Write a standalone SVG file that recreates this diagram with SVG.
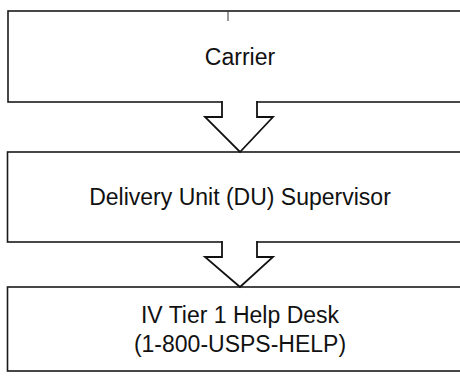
<svg xmlns="http://www.w3.org/2000/svg" width="460" height="381" viewBox="0 0 460 381">
<style>
.box{fill:#fff;stroke:#1a1a1a;stroke-width:1.6}
.arrow{fill:#fff;stroke:#111;stroke-width:1.8;stroke-linejoin:miter}
.lbl{font-family:"Liberation Sans",Arial,sans-serif;font-size:23px;fill:#111;text-anchor:middle}
</style>
<rect width="460" height="381" fill="#fff"/>
<g id="node-carrier">
<rect class="box" x="8" y="11" width="460" height="91"/>
<line x1="228" y1="11" x2="228" y2="21" stroke="#333" stroke-width="1"/>
<text class="lbl" x="240" y="65">Carrier</text>
</g>
<g id="node-du">
<rect class="box" x="7.5" y="152" width="460" height="90"/>
<text class="lbl" x="240" y="205">Delivery Unit (DU) Supervisor</text>
</g>
<g id="node-helpdesk">
<rect class="box" x="7.5" y="287" width="460" height="84"/>
<text class="lbl" x="240" y="323">IV Tier 1 Help Desk</text>
<text class="lbl" x="240" y="352">(1-800-USPS-HELP)</text>
</g>
<g id="connectors">
<path class="arrow" d="M222,101 V117 H205 L240,152 L273,117 H257 V101"/>
<path class="arrow" d="M222,241 V257 H205 L240,287 L273,257 H257 V241"/>
</g>
</svg>
